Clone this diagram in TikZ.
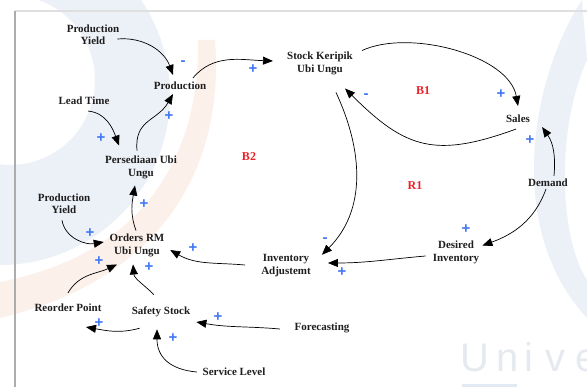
\documentclass[tikz,border=0pt]{standalone}
\usepackage{fontspec}
\setmainfont{Liberation Serif}
\newfontfamily\sansf{Liberation Sans}
\usetikzlibrary{arrows.meta,calc}
\definecolor{txt}{RGB}{30,30,30}
\definecolor{polblue}{RGB}{66,120,245}
\definecolor{loopred}{RGB}{236,32,38}
\definecolor{wmblue}{RGB}{236,240,247}
\definecolor{wmorange}{RGB}{252,240,234}
\definecolor{wmtext}{RGB}{230,234,240}
\definecolor{wmbar}{RGB}{226,233,243}
\tikzset{
  lbl/.style={font=\bfseries\fontsize{11}{12.5}\selectfont, align=center, inner sep=1pt, text=txt},
  pol/.style={font=\sansf\bfseries\fontsize{15}{15}\selectfont, text=polblue, inner sep=0pt},
  looplbl/.style={font=\bfseries\fontsize{12}{12}\selectfont, text=loopred, inner sep=0pt},
  arr/.style={-{Triangle[length=10pt,width=8pt]}, line width=0.7pt, black},
  wm/.style={font=\sansf\fontsize{40}{40}\selectfont, text=wmtext, anchor=base west, inner sep=0pt}
}
\begin{document}
\begin{tikzpicture}[x=1pt,y=1pt]
\useasboundingbox (0,0) rectangle (587,-387);
\fill[white] (0,0) rectangle (587,-387);
% watermark
\begin{scope}
\clip (0,0) rectangle (587,-387);
\fill[wmblue, even odd rule] (0,-95) circle (170) (10,-80) circle (85);
\fill[wmorange] (215,-40) .. controls (225,-170) and (160,-280) .. (0,-318) -- (0,-282) .. controls (140,-255) and (200,-160) .. (198,-40) -- cycle;
\fill[wmblue] (582,0) .. controls (530,-80) and (505,-230) .. (587,-318) -- (587,-280) .. controls (560,-240) and (555,-130) .. (587,-60) -- cycle;
\fill[wmbar] (462,-384) rectangle (517,-387);
\end{scope}
\node[wm] (wmU) at (460,-372) {U};
\node[wm] (wmn) at (496,-372) {n};
\node[wm] (wmi) at (524,-372) {i};
\node[wm] (wmv) at (545,-372) {v};
\node[wm] (wme) at (575,-372) {e};
% frame
\draw[gray!25, line width=1.2pt] (15,-11) -- (587,-11);
\draw[gray!65, line width=1.2pt] (15,-387) -- (15,-11);
% variables
\node[lbl] (py1) at (93,-34.5) {Production\\Yield};
\node[lbl] (prod) at (180,-86) {Production};
\node[lbl] (stock) at (320,-63.5) {Stock Keripik\\Ubi Ungu};
\node[lbl] (lead) at (84,-101) {Lead Time};
\node[lbl] (pers) at (141,-167.5) {Persediaan Ubi\\Ungu};
\node[lbl] (sales) at (518,-119) {Sales};
\node[lbl] (demand) at (548,-183) {Demand};
\node[lbl] (py2) at (64,-203.5) {Production\\Yield};
\node[lbl] (orders) at (137,-245.5) {Orders RM\\Ubi Ungu};
\node[lbl] (invadj) at (286,-265.5) {Inventory\\Adjustemt};
\node[lbl] (desired) at (456,-252.5) {Desired\\Inventory};
\node[lbl] (reorder) at (68,-308) {Reorder Point};
\node[lbl] (safety) at (161,-312) {Safety Stock};
\node[lbl] (fore) at (322,-328) {Forecasting};
\node[lbl] (service) at (234,-372) {Service Level};
% loop labels
\node[looplbl] (b1) at (423,-91) {B1};
\node[looplbl] (b2) at (249,-157) {B2};
\node[looplbl] (r1) at (415,-186) {R1};
% connectors
\draw[arr] ($(py1.east)+(-3,-4.5)$) to[out=5,in=110] ($(prod.north)+(-7,6)$);
\draw[arr] ($(prod.north)+(13,3)$) to[out=50,in=178] ($(stock.west)+(-13,2.5)$);
\draw[arr] ($(pers.north)+(-4,4.5)$) to[out=95,in=240,looseness=1.2] ($(prod.south)+(-7,-3)$);
\draw[arr] ($(lead.south)+(4,-5)$) to[out=-5,in=110] ($(pers.north)+(-22,9.5)$);
\draw[arr] ($(orders.north)+(-1,2.5)$) to[out=110,in=260] ($(pers.south)+(-6,-5.5)$);
\draw[arr] ($(py2.south)+(-2,-5.5)$) to[out=-80,in=190] ($(orders.west)+(-4.7,3.5)$);
\draw[arr] ($(reorder.north)+(0,10)$) to[out=60,in=205] ($(orders.south)+(-20,-6.5)$);
\draw[arr] ($(safety.north)+(-7,11)$) to[out=135,in=275] ($(orders.south)+(-4,-6.5)$);
\draw[arr] ($(invadj.west)+(-15,0.5)$) to[out=175,in=-30] ($(orders.east)+(4.7,-4.5)$);
\draw[arr] ($(safety.south west)+(9,-10)$) to[out=195,in=-10] ($(reorder.south)+(18,-14)$);
\draw[arr] ($(fore.west)+(-13.5,-1)$) to[out=175,in=-10] ($(safety.east)+(5,-10)$);
\draw[arr] ($(service.west)+(-4.7,0)$) to[out=175,in=-90,looseness=1.2] ($(safety.south)+(-4,-11)$);
\draw[arr] ($(stock.north east)+(8,0.5)$) to[out=25,in=100,looseness=0.8] ($(sales.north)+(0,8)$);
\draw[arr] ($(sales.south)+(-2,-5)$) to[out=200,in=-45,looseness=1.25] ($(stock.south east)+(-9,-12.5)$);
\draw[arr] ($(stock.south)+(16,-16.5)$) to[out=-65,in=45] ($(invadj.north east)+(10,-1.5)$);
\draw[arr] ($(demand.north)+(6,2)$) to[out=85,in=-55] ($(sales.south east)+(11,-3)$);
\draw[arr] ($(demand.south)+(-2,-1)$) to[out=250,in=20] ($(desired.north east)+(2,-5.5)$);
\draw[arr] ($(desired.west)+(-6,-3.5)$) to[out=185,in=0] ($(invadj.east)+(16,2.5)$);
% polarities
\node[pol] (p1) at (183,-63) {-};
\node[pol] (p2) at (253,-69) {+};
\node[pol] (p3) at (169,-116) {+};
\node[pol] (p4) at (101,-138) {+};
\node[pol] (p5) at (366,-96) {-};
\node[pol] (p6) at (501,-94) {+};
\node[pol] (p7) at (530,-140) {+};
\node[pol] (p8) at (144,-204) {+};
\node[pol] (p9) at (90,-233) {+};
\node[pol] (p10) at (99,-261) {+};
\node[pol] (p11) at (149,-267) {+};
\node[pol] (p12) at (193,-248) {+};
\node[pol] (p13) at (325,-240) {-};
\node[pol] (p14) at (342,-272) {+};
\node[pol] (p15) at (466,-229) {+};
\node[pol] (p16) at (99,-323) {+};
\node[pol] (p17) at (218,-317) {+};
\node[pol] (p18) at (173,-338) {+};
\end{tikzpicture}
\end{document}
